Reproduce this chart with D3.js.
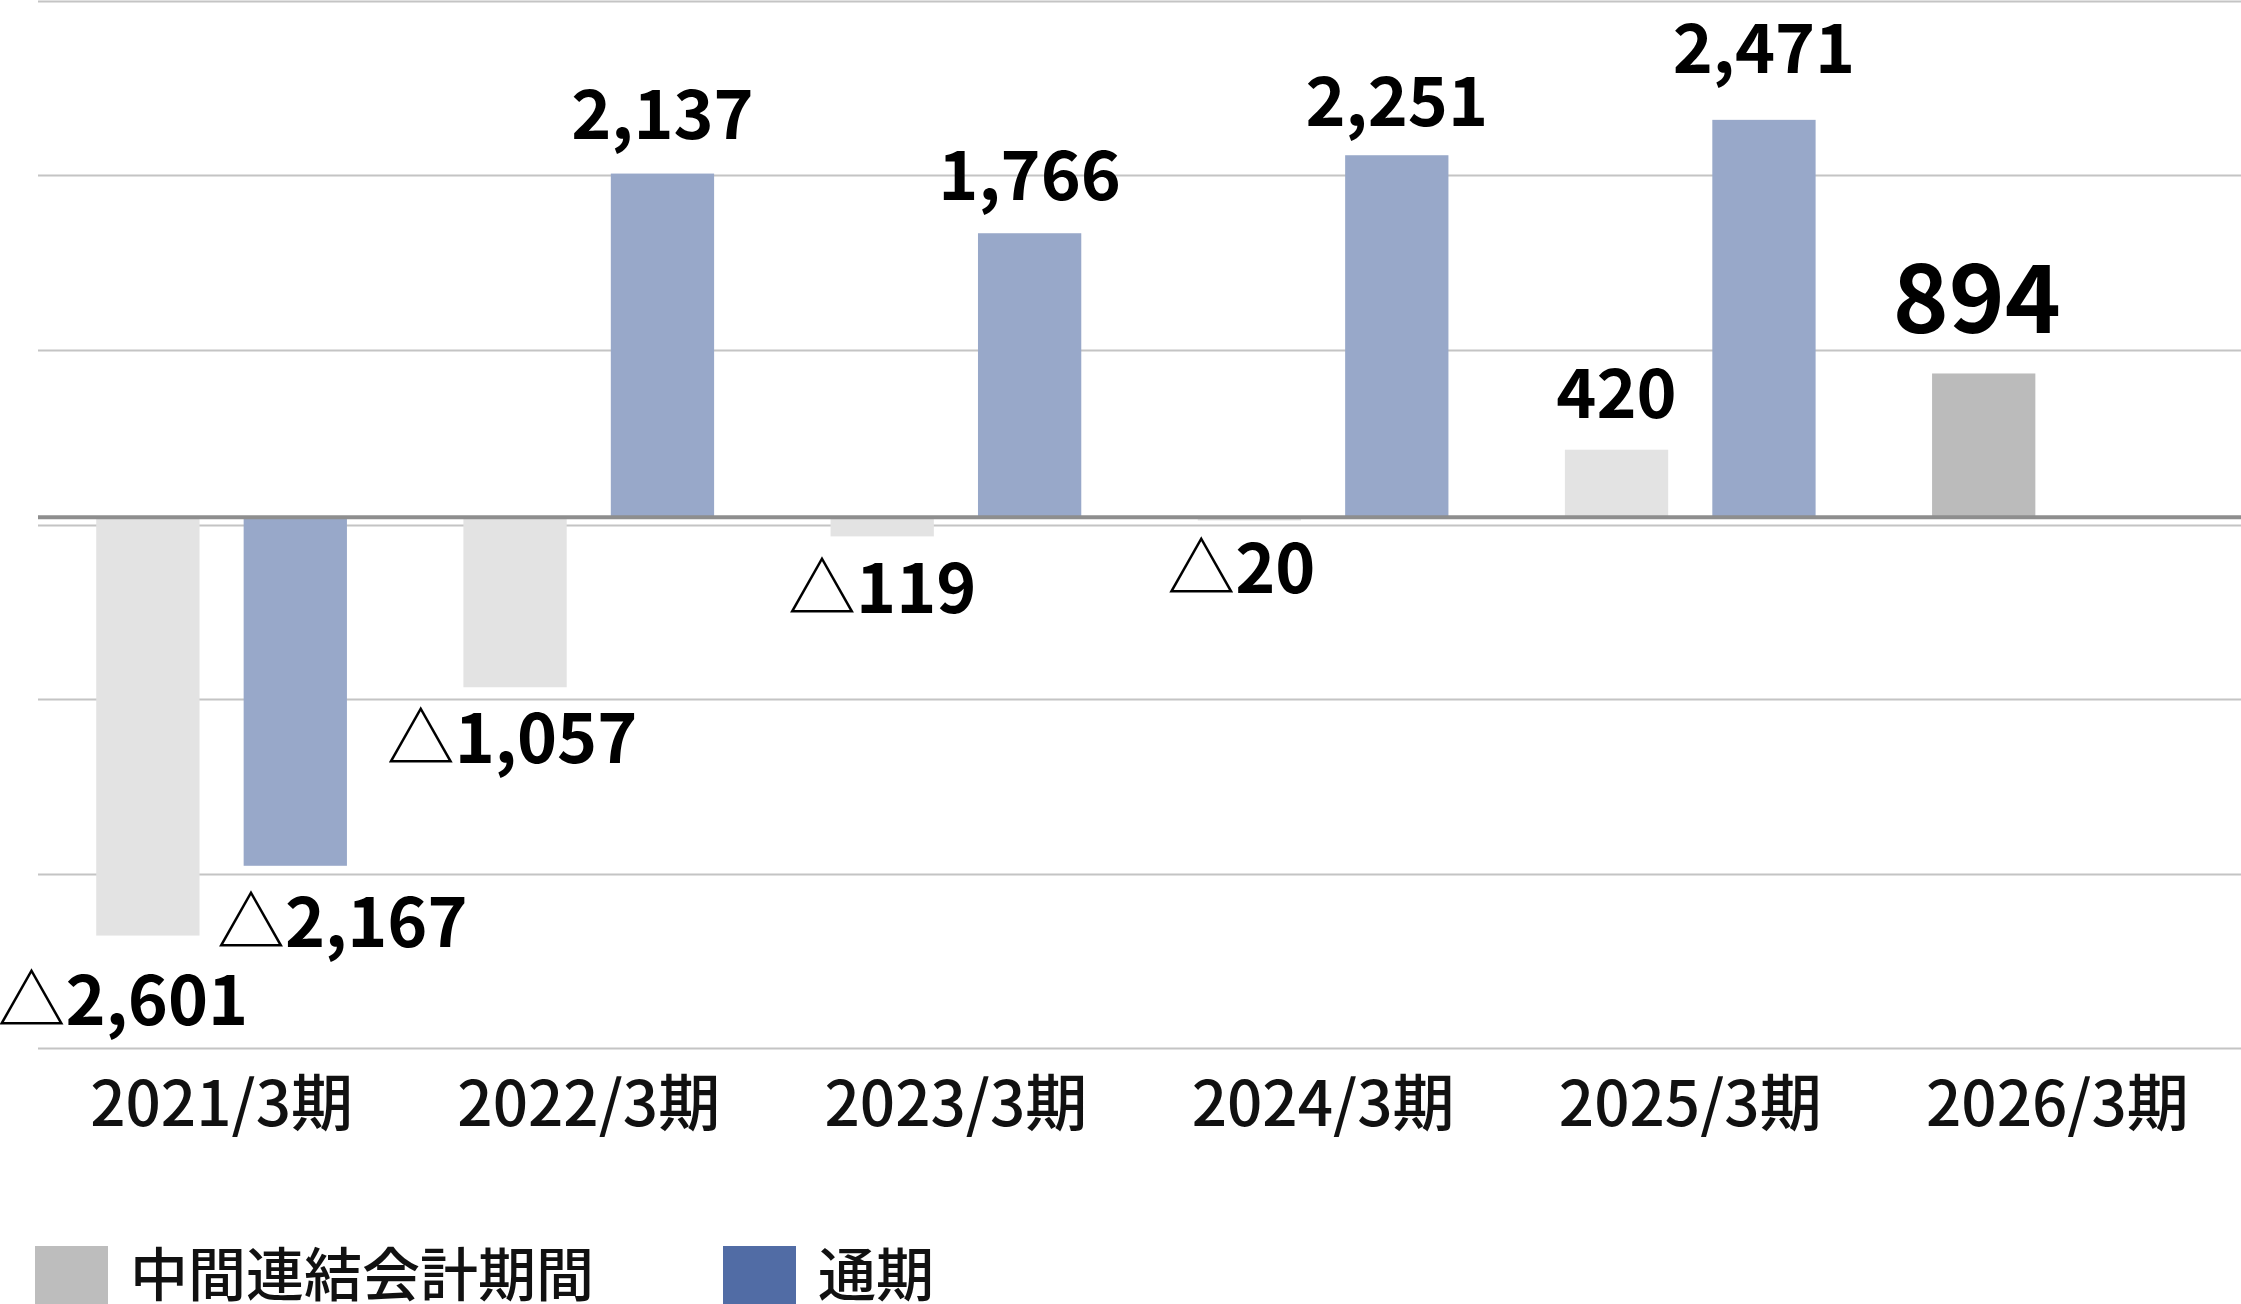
<!DOCTYPE html>
<html>
<head>
<meta charset="utf-8">
<script src="https://cdn.jsdelivr.net/npm/d3@7"></script>
<style>
  html, body { margin: 0; padding: 0; background: #fff; }
  svg { display: block; }
  text { font-family: "Noto Sans CJK JP", "Noto Sans", sans-serif; }
</style>
</head>
<body>
<svg id="chart" width="2241" height="1304"></svg>
<script>
// ---- data ----
const categories = ["2021/3期", "2022/3期", "2023/3期", "2024/3期", "2025/3期", "2026/3期"];
const seriesKeys = ["interim", "full"];
const seriesNames = ["中間連結会計期間", "通期"];
const interimValues = [-2601, -1057, -119, -20, 420, 894];
const fullYearValues = [-2167, 2137, 1766, 2251, 2471, null];

// ---- layout / style (not data) ----
const W = 2241, H = 1304;
const plotLeft = 38, plotRight = 2241, plotTop = 1, plotBottom = 1048;
const yDomain = [-3300, 3210];
const gridCount = 7;
const colors = {
  interim: { past: "#e3e3e3", current: "#bbbbbb", legend: "#bdbdbd" },
  full:    { past: "#98a8c9", current: "#516ca5", legend: "#516ca5" }
};
// small hand-placement nudges of value labels [dx, dy]
const labelNudge = {
  "interim-0": [-25, 12], "full-0": [47, 4],
  "interim-1": [-3, -1],  "full-1": [0, 0],
  "interim-2": [0, 0],    "full-2": [0, 2],
  "interim-3": [-8, -4],  "full-3": [0, 6],
  "interim-4": [0, 3],    "full-4": [0, -12],
  "interim-5": [-7, -5]
};

const svg = d3.select("#chart");

const x0 = d3.scaleBand().domain(categories).range([plotLeft, plotRight]).paddingInner(0).paddingOuter(0);
const x1 = d3.scaleBand().domain(seriesKeys).range([0, x0.bandwidth()]).paddingInner(0.2993).paddingOuter(0.395);
const y = d3.scaleLinear().domain(yDomain).range([plotBottom, plotTop]);

// gridlines evenly spaced over the value domain
const gridValues = d3.range(gridCount).map(i => yDomain[0] + i * (yDomain[1] - yDomain[0]) / (gridCount - 1));
svg.append("g").selectAll("line").data(gridValues).join("line")
  .attr("x1", plotLeft).attr("x2", plotRight)
  .attr("y1", d => Math.round(y(d)) + 0.5).attr("y2", d => Math.round(y(d)) + 0.5)
  .attr("stroke", "#c4c4c4").attr("stroke-width", 2);

// bars
const rows = [];
categories.forEach((c, i) => {
  rows.push({ cat: c, i, key: "interim", v: interimValues[i] });
  if (fullYearValues[i] !== null) rows.push({ cat: c, i, key: "full", v: fullYearValues[i] });
});
const lastIdx = categories.length - 1;

svg.append("g").selectAll("rect").data(rows).join("rect")
  .attr("x", d => x0(d.cat) + x1(d.key))
  .attr("width", x1.bandwidth())
  .attr("y", d => y(Math.max(0, d.v)))
  .attr("height", d => Math.abs(y(d.v) - y(0)))
  .attr("fill", d => d.i === lastIdx ? colors[d.key].current : colors[d.key].past);

// zero axis line
svg.append("line")
  .attr("x1", plotLeft).attr("x2", plotRight)
  .attr("y1", y(0)).attr("y2", y(0))
  .attr("stroke", "#8e8e8e").attr("stroke-width", 4);

// value labels
const fmt = d3.format(",");
const lbl = svg.append("g");
rows.forEach(d => {
  const n = labelNudge[d.key + "-" + d.i] || [0, 0];
  const cx = x0(d.cat) + x1(d.key) + x1.bandwidth() / 2 + n[0];
  const big = d.i === lastIdx;
  const fs = big ? 95 : 68;
  const by = d.v >= 0 ? y(d.v) - 35 + n[1] : y(d.v) + 77 + n[1];
  const t = lbl.append("text")
    .attr("x", cx).attr("y", by)
    .attr("text-anchor", "middle")
    .attr("font-size", fs)
    .attr("fill", "#000");
  if (d.v < 0) {
    t.append("tspan").attr("font-weight", 400).text("△");
    t.append("tspan").attr("font-weight", 700).text(fmt(-d.v));
  } else {
    t.append("tspan").attr("font-weight", 700).text(fmt(d.v));
  }
});

// category labels
svg.append("g").selectAll("text").data(categories).join("text")
  .attr("x", d => x0(d) + x0.bandwidth() / 2)
  .attr("y", 1126)
  .attr("text-anchor", "middle")
  .attr("font-size", 62)
  .attr("font-weight", 500)
  .attr("fill", "#111")
  .text(d => d);

// legend
const legend = svg.append("g");
const legendX = [35, 723];
seriesKeys.forEach((k, i) => {
  legend.append("rect")
    .attr("x", legendX[i]).attr("y", 1246)
    .attr("width", 73).attr("height", 73)
    .attr("fill", colors[k].legend);
  legend.append("text")
    .attr("x", legendX[i] + 95).attr("y", 1296)
    .attr("font-size", 58)
    .attr("font-weight", 500)
    .attr("fill", "#111")
    .text(seriesNames[i]);
});
</script>
</body>
</html>
